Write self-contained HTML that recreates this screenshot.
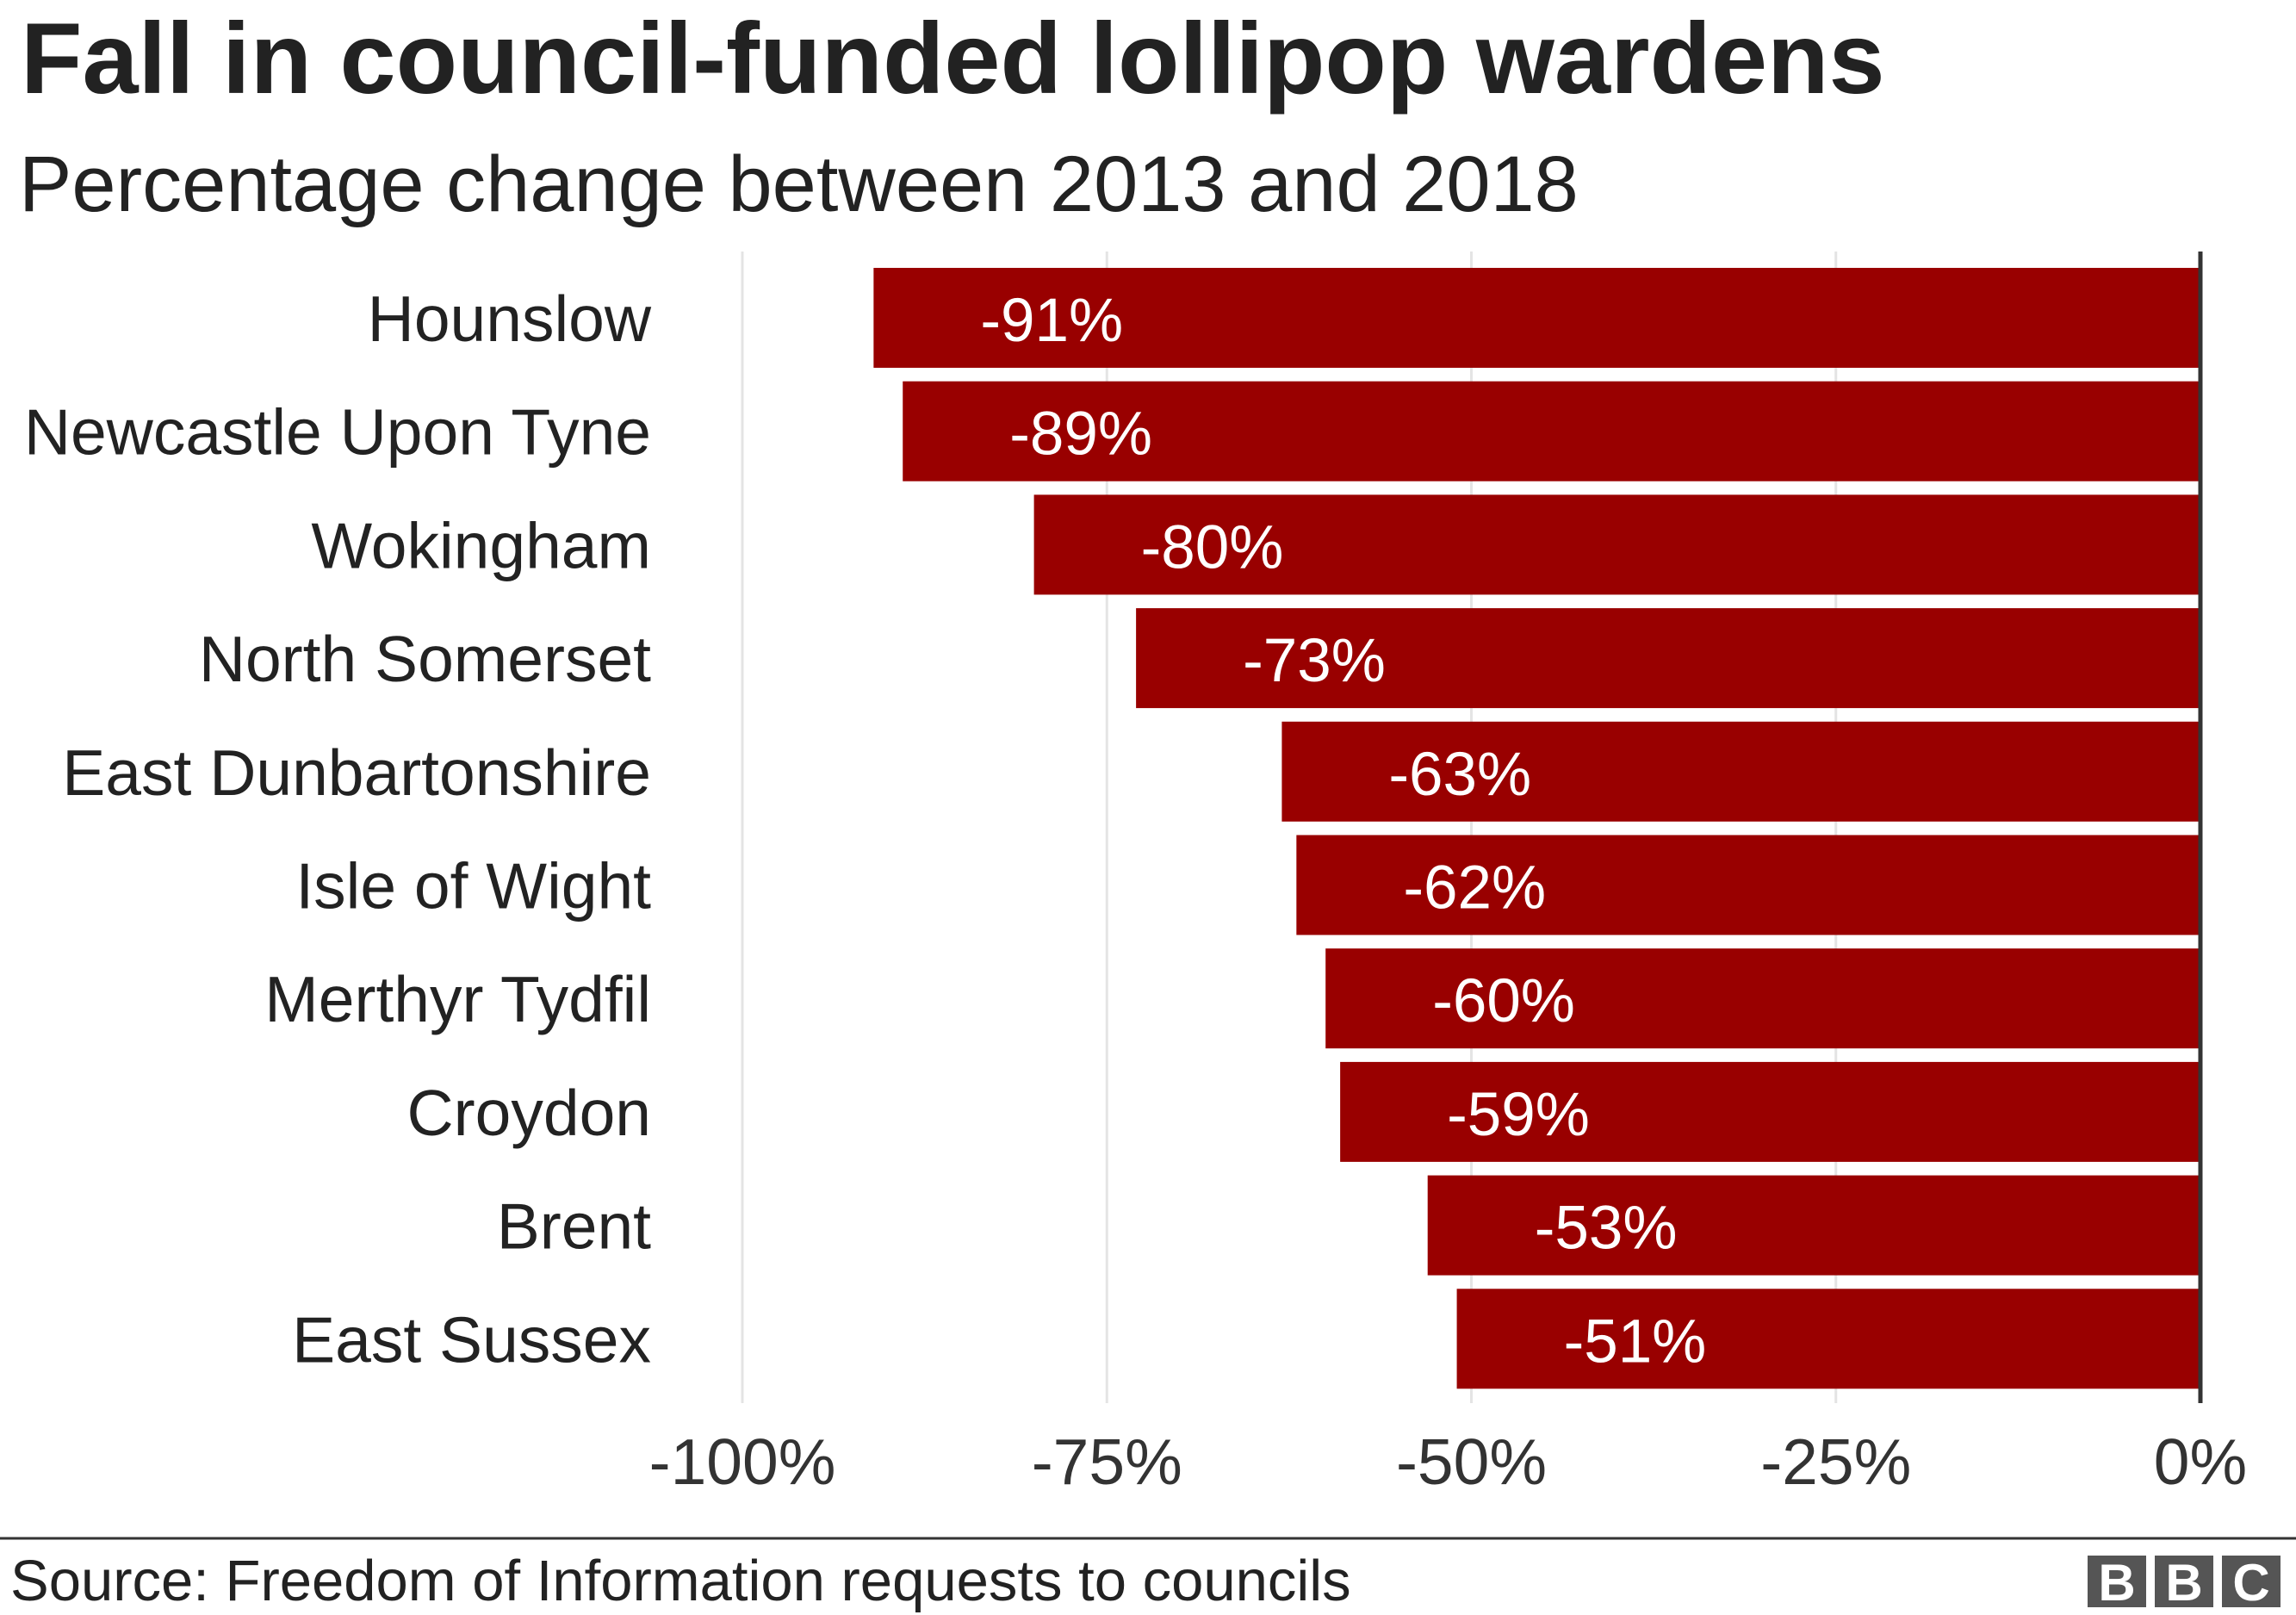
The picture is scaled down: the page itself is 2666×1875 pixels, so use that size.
<!DOCTYPE html>
<html><head><meta charset="utf-8"><style>
html,body{margin:0;padding:0;background:#fff;}
svg{display:block;font-family:"Liberation Sans",Arial,sans-serif;}
</style></head><body>
<svg id="chart" width="2666" height="1875" viewBox="0 0 2666 1875" xmlns="http://www.w3.org/2000/svg">
<text x="24" y="108" font-size="117" font-weight="bold" fill="#222">Fall in council-funded lollipop wardens</text>
<text x="22" y="245" font-size="92" fill="#222">Percentage change between 2013 and 2018</text>
<g id="grid"></g>
<g id="bars"></g>
<g id="ylabels"></g>
<g id="xticks"></g>
<line x1="0" y1="1786" x2="2666" y2="1786" stroke="#333" stroke-width="3"/>
<text x="12" y="1858" font-size="67" fill="#222">Source: Freedom of Information requests to councils</text>
<g>
<rect x="2424" y="1806" width="68" height="60" fill="#555"/>
<rect x="2502" y="1806" width="68" height="60" fill="#555"/>
<rect x="2580" y="1806" width="68" height="60" fill="#555"/>
<text x="2458" y="1858" font-size="60" font-weight="bold" fill="#fff" text-anchor="middle">B</text>
<text x="2536" y="1858" font-size="60" font-weight="bold" fill="#fff" text-anchor="middle">B</text>
<text x="2614" y="1858" font-size="60" font-weight="bold" fill="#fff" text-anchor="middle">C</text>
</g>
</svg>
<script>
const categories = ["Hounslow","Newcastle Upon Tyne","Wokingham","North Somerset","East Dunbartonshire","Isle of Wight","Merthyr Tydfil","Croydon","Brent","East Sussex"];
const values = [-91,-89,-80,-73,-63,-62,-60,-59,-53,-51];
const ticks = [-100,-75,-50,-25,0];
const tickLabels = ["-100%","-75%","-50%","-25%","0%"];

const NS = "http://www.w3.org/2000/svg";
const x0 = 862, x1 = 2555;
const xScale = v => x0 + (v + 100) / 100 * (x1 - x0);
const top0 = 311, pitch = 131.7, barH = 116;
const yScale = i => top0 + i * pitch;
function mk(tag, attrs, parent){const e=document.createElementNS(NS,tag);for(const k in attrs)e.setAttribute(k,attrs[k]);parent.appendChild(e);return e;}

const grid = document.getElementById('grid');
ticks.forEach((t,i)=>{
  if(t!==0){
    const l = mk('line',{x1:xScale(t),x2:xScale(t),y1:292,y2:1629,stroke:'#e4e4e4','stroke-width':3},grid);
    
    
  }
  const tx = mk('text',{x:xScale(t),y:1723,'font-size':75,fill:'#333','text-anchor':'middle'},document.getElementById('xticks'));
  tx.textContent = tickLabels[i];
  
  
});

const bars = document.getElementById('bars');
const yl = document.getElementById('ylabels');
categories.forEach((c,i)=>{
  const v = values[i];
  const y = yScale(i);
  const r = mk('rect',{x:xScale(v),y:y,width:xScale(0)-xScale(v),height:barH,fill:'#990000'},bars);
  
  
  const vt = mk('text',{x:xScale(v)+124,y:y+barH/2+27,'font-size':71,fill:'#fff'},bars);
  vt.textContent = v + '%';
  
  
  const lt = mk('text',{x:756,y:y+barH/2+27,'font-size':75,fill:'#222','text-anchor':'end'},yl);
  lt.textContent = c;
  
  
});
const z = mk('line',{x1:xScale(0),x2:xScale(0),y1:292,y2:1629,stroke:'#333','stroke-width':5},bars);


</script>
</body></html>
